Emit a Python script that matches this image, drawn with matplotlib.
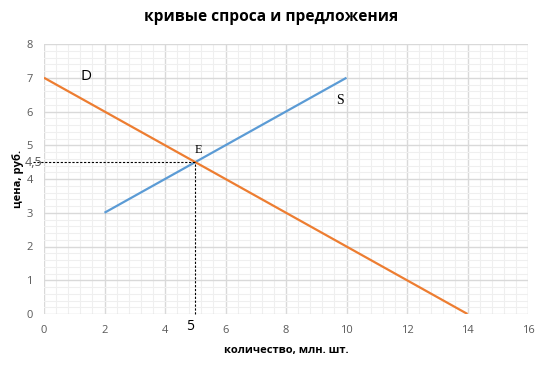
import matplotlib
matplotlib.use("Agg")
import matplotlib.pyplot as plt
import numpy as np
from matplotlib.ticker import MultipleLocator

plt.rcParams['font.family'] = ['Open Sans', 'DejaVu Sans']

demand_x = [0, 14]
demand_y = [7, 0]
supply_x = [2, 10]
supply_y = [3, 7]
eq_x = 5
eq_y = 4.5

fig = plt.figure(figsize=(5.43, 3.67), dpi=100)
ax = fig.add_axes([44/543, 1-314/367, (528-44)/543, (314-44)/367])

ax.set_xlim(0, 16)
ax.set_ylim(0, 8)
ax.xaxis.set_major_locator(MultipleLocator(2))
ax.yaxis.set_major_locator(MultipleLocator(1))
ax.xaxis.set_minor_locator(MultipleLocator(0.4))
ax.yaxis.set_minor_locator(MultipleLocator(0.2))
ax.grid(which='major', color='#d9d9d9', linewidth=1.0)
ax.grid(which='minor', color='#efefef', linewidth=0.8)
ax.set_axisbelow(True)
for s in ax.spines.values():
    s.set_visible(False)
ax.tick_params(which='both', length=0, labelsize=8, colors='#595959', pad=8)

ax.plot(supply_x, supply_y, color='#5B9BD5', linewidth=1.6, solid_capstyle='butt')
ax.plot(demand_x, demand_y, color='#ED7D31', linewidth=1.6, solid_capstyle='butt')

ax.plot([-0.35, eq_x], [eq_y, eq_y], color='black', linestyle=(0, (2, 1.5)), linewidth=0.8, clip_on=False)
ax.plot([eq_x, eq_x], [0, eq_y], color='black', linestyle=(0, (2, 1.5)), linewidth=0.8, clip_on=False)

ax.text(1.39, 7.05, 'D', fontsize=11, ha='center', va='center', color='black')
ax.text(9.8, 6.34, 'S', fontsize=10, ha='center', va='center', family=['Liberation Serif'])
ax.text(5.1, 4.86, 'E', fontsize=9, ha='center', va='center', family=['Liberation Serif'])
ax.text(-0.05, 4.5, '4,5', fontsize=9, ha='right', va='center', color='#595959', clip_on=False)
ax.text(4.83, -0.36, '5', fontsize=10, ha='center', va='center', color='black', clip_on=False)

fig.text(0.5, 1-17/367, 'кривые спроса и предложения', fontsize=11.2, fontweight='bold', ha='center', va='center')
ax.set_xlabel('количество, млн. шт.', fontsize=8, fontweight='bold')
ax.set_ylabel('цена, руб.', fontsize=8, fontweight='bold')
ax.yaxis.set_label_coords((24-44)/484, 0.5)
ax.xaxis.set_label_coords(0.5, (314-345)/270)

fig.savefig('out.png', dpi=100)
